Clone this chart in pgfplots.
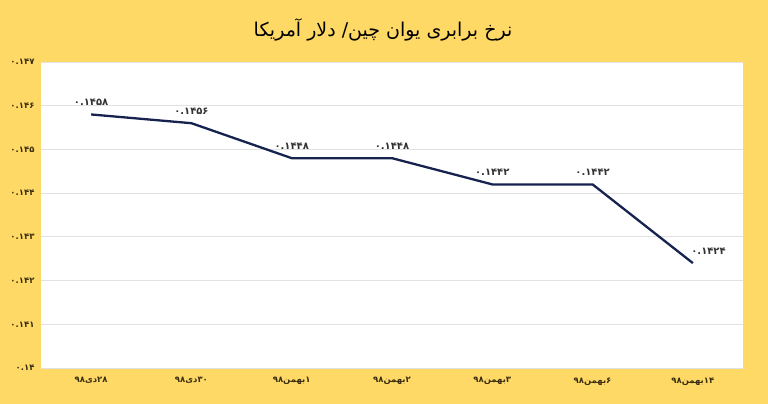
\documentclass[border=0pt]{standalone}
\usepackage{fontspec}
\usepackage{pgfplots}
\pgfplotsset{compat=1.18}
\TeXXeTstate=1
\newfontfamily\fa[Script=Arabic]{DejaVu Sans}
\definecolor{bgy}{HTML}{FFD966}
\definecolor{navy}{HTML}{17234F}
\definecolor{gridc}{HTML}{E2E2E2}
\definecolor{lab}{HTML}{3A2E10}
\begin{document}
\begin{tikzpicture}[x=1pt,y=1pt]
\fill[bgy] (0,0) rectangle (768,404);
\useasboundingbox (0,0) rectangle (768,404);
\node[font=\fa\fontsize{19}{22}\selectfont, text=black] at (383,374) {\beginR نرخ برابری یوان چین/ دلار آمریکا\endR};
\begin{axis}[
  at={(41pt,36pt)}, anchor=south west, scale only axis,
  width=702pt, height=306pt,
  xmin=-0.5, xmax=6.5, ymin=0.140, ymax=0.147,
  axis background/.style={fill=white},
  axis line style={draw=none},
  ymajorgrids, grid style={gridc, line width=0.8pt},
  major tick length=0pt,
  ytick={0.140,0.141,0.142,0.143,0.144,0.145,0.146,0.147},
  yticklabels={۰.۱۴,۰.۱۴۱,۰.۱۴۲,۰.۱۴۳,۰.۱۴۴,۰.۱۴۵,۰.۱۴۶,۰.۱۴۷},
  xtick={0,1,2,3,4,5,6},
  xticklabels={\beginR ۲۸دی۹۸\endR,\beginR ۳۰دی۹۸\endR,\beginR ۱بهمن۹۸\endR,\beginR ۲بهمن۹۸\endR,\beginR ۳بهمن۹۸\endR,\beginR ۶بهمن۹۸\endR,\beginR ۱۴بهمن۹۸\endR},
  ticklabel style={font=\fa\bfseries\fontsize{8.5}{10}\selectfont, text=lab},
  yticklabel style={xshift=-3pt},
  xticklabel style={yshift=-6pt},
  clip=false,
  point meta=explicit symbolic,
  nodes near coords={\pgfplotspointmeta},
  every node near coord/.style={font=\fa\bfseries\fontsize{10}{12}\selectfont, text=black!80, anchor=south, yshift=5pt},
]
\addplot[navy, line width=2.3pt, mark=none, nodes near coords={}] coordinates {
  (0,0.1458) (1,0.1456) (2,0.1448) (3,0.1448) (4,0.1442) (5,0.1442) (6,0.1424)
};
\addplot[draw=none, mark=none] coordinates {
  (0,0.1458) [۰.۱۴۵۸]
  (1,0.1456) [۰.۱۴۵۶]
  (2,0.1448) [۰.۱۴۴۸]
  (3,0.1448) [۰.۱۴۴۸]
  (4,0.1442) [۰.۱۴۴۲]
  (5,0.1442) [۰.۱۴۴۲]
};
\addplot[draw=none, mark=none, every node near coord/.append style={anchor=south west, xshift=-5pt, yshift=0pt}] coordinates {
  (6,0.1424) [۰.۱۴۲۴]
};
\end{axis}
\end{tikzpicture}
\end{document}
